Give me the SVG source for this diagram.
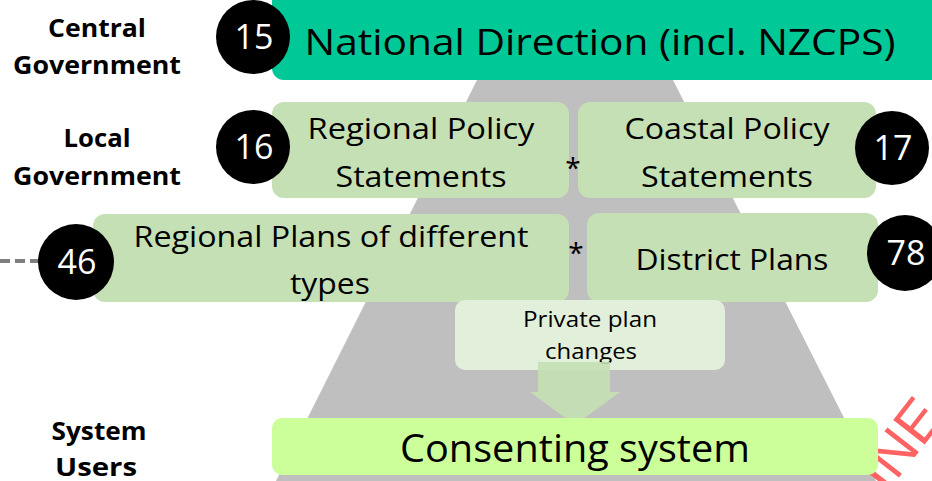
<svg xmlns="http://www.w3.org/2000/svg" width="932" height="481" viewBox="0 0 932 481">
<style>
.lbl{font-family:"Open Sans","Liberation Sans",sans-serif;font-weight:bold;font-size:25px;fill:#000;text-anchor:middle}
.t{font-family:"Open Sans","Liberation Sans",sans-serif;fill:#000;text-anchor:middle}
.num{font-family:"Open Sans","Liberation Sans",sans-serif;font-size:34px;fill:#fff;text-anchor:middle}
.circ{fill:#000}
.lg{fill:#C5E0B4}
</style>
<rect width="932" height="481" fill="#fff"/>
<polygon id="pyramid" points="482,70 668,70 876,481 276,481" fill="#BFBFBF"/>
<text x="886" y="494" transform="rotate(-52 886 494)" font-family="Liberation Sans, sans-serif" font-size="58" fill="#FF6262">INE</text>
<g id="labels">
<text class="lbl" x="97" y="37" textLength="98" lengthAdjust="spacingAndGlyphs">Central</text>
<text class="lbl" x="97" y="74" textLength="168" lengthAdjust="spacingAndGlyphs">Government</text>
<text class="lbl" x="97" y="147" textLength="67" lengthAdjust="spacingAndGlyphs">Local</text>
<text class="lbl" x="97" y="185" textLength="168" lengthAdjust="spacingAndGlyphs">Government</text>
<text class="lbl" x="99" y="440" textLength="95" lengthAdjust="spacingAndGlyphs">System</text>
<text class="lbl" x="96" y="476" textLength="82" lengthAdjust="spacingAndGlyphs">Users</text>
</g>
<g id="connectors">
<line x1="0" y1="261" x2="40" y2="261" stroke="#7F7F7F" stroke-width="4" stroke-dasharray="10,5"/>
</g>
<g id="national">
<rect x="272" y="-20" width="680" height="100" rx="12" fill="#00C896"/>
<text class="t" x="600" y="55" font-size="37" textLength="591" lengthAdjust="spacingAndGlyphs">National Direction (incl. NZCPS)</text>
<circle class="circ" cx="253" cy="37" r="37"/>
<text class="num" x="254" y="49">15</text>
</g>
<g id="rps">
<rect class="lg" x="272" y="102" width="297" height="96" rx="12"/>
<text class="t" x="421" y="139" font-size="30" textLength="227" lengthAdjust="spacingAndGlyphs">Regional Policy</text>
<text class="t" x="421" y="187" font-size="30" textLength="171" lengthAdjust="spacingAndGlyphs">Statements</text>
<circle class="circ" cx="253" cy="147" r="37"/>
<text class="num" x="254" y="159">16</text>
</g>
<g id="cps">
<rect class="lg" x="578" y="102" width="298" height="96" rx="12"/>
<text class="t" x="727" y="139" font-size="30" textLength="205" lengthAdjust="spacingAndGlyphs">Coastal Policy</text>
<text class="t" x="727" y="187" font-size="30" textLength="172" lengthAdjust="spacingAndGlyphs">Statements</text>
<circle class="circ" cx="892" cy="148" r="37"/>
<text class="num" x="893" y="160">17</text>
</g>
<text class="t" x="573" y="178" font-size="28">*</text>
<g id="regional-plans">
<rect class="lg" x="93" y="214" width="476" height="88" rx="12"/>
<text class="t" x="331" y="247" font-size="30" textLength="395" lengthAdjust="spacingAndGlyphs">Regional Plans of different</text>
<text class="t" x="330" y="294" font-size="30" textLength="80" lengthAdjust="spacingAndGlyphs">types</text>
<circle class="circ" cx="76" cy="262" r="38"/>
<text class="num" x="77" y="274">46</text>
</g>
<g id="district-plans">
<rect class="lg" x="587" y="213" width="291" height="89" rx="12"/>
<text class="t" x="732" y="270" font-size="30" textLength="193" lengthAdjust="spacingAndGlyphs">District Plans</text>
<circle class="circ" cx="905" cy="253" r="38"/>
<text class="num" x="906" y="265">78</text>
</g>
<text class="t" x="576" y="263" font-size="28">*</text>
<g id="private">
<rect x="455" y="300" width="270" height="70" rx="10" fill="#E2EFDA"/>
<text class="t" x="590" y="327" font-size="21" textLength="134" lengthAdjust="spacingAndGlyphs">Private plan</text>
<text class="t" x="591" y="359" font-size="21" textLength="92" lengthAdjust="spacingAndGlyphs">changes</text>
</g>
<g id="arrow">
<polygon points="538,362 610,362 610,392 620,392 575,425 530,392 538,392" fill="#C5E0B4" opacity="0.9"/>
</g>
<g id="consenting">
<rect x="272" y="418" width="606" height="57" rx="10" fill="#CCFF99"/>
<text class="t" x="575" y="462" font-size="38" textLength="350" lengthAdjust="spacingAndGlyphs">Consenting system</text>
</g>
</svg>
